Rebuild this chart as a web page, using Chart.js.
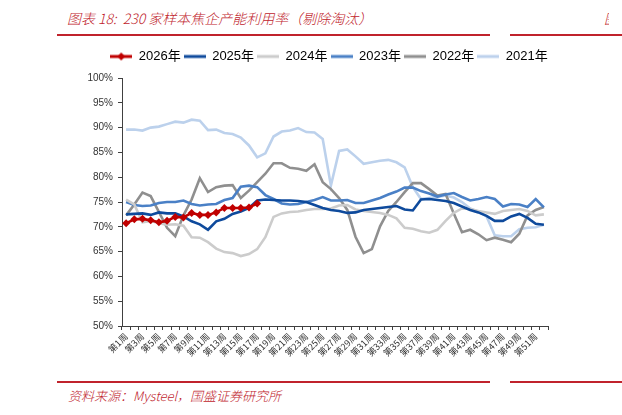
<!DOCTYPE html>
<html>
<head>
<meta charset="utf-8">
<script src="https://cdn.jsdelivr.net/npm/chart.js@4.4.1/dist/chart.umd.min.js"></script>
<style>
  body { margin: 0; width: 622px; height: 415px; background: #fff; position: relative; overflow: hidden; }
  .red { color: #c0232c; font-family: "Noto Sans CJK SC", sans-serif; font-style: italic; font-weight: 300; position: absolute; white-space: nowrap; }
  .bar { position: absolute; height: 2px; background: #c0232c; }
  #box { position: absolute; left: 0; top: 40px; width: 622px; height: 340px; }
</style>
</head>
<body>
<div class="red" style="left:67px;top:8px;font-size:14px;">图表 18:&nbsp; 230 家样本焦企产能利用率（剔除淘汰）</div>
<div class="red" style="left:604px;top:8px;font-size:14px;width:5px;overflow:hidden;">图</div>
<div class="bar" style="left:57px;top:34px;width:433px;"></div>
<div class="bar" style="left:510px;top:34px;width:112px;"></div>
<div id="box"><canvas id="myChart"></canvas></div>
<div class="bar" style="left:57px;top:381px;width:433px;"></div>
<div class="bar" style="left:510px;top:381px;width:112px;"></div>
<div class="red" style="left:68px;top:386px;font-size:13px;">资料来源：Mysteel，国盛证券研究所</div>

<script>
// weeks 1..52
var weeks = [];
for (var i = 1; i <= 52; i++) weeks.push("第" + i + "周");

var y2026 = [70.7, 71.5, 71.6, 71.3, 70.9, 71.2, 72.0, 71.9, 72.8, 72.4, 72.4, 72.9, 73.8, 73.8, 73.8, 73.9, 74.7];
var y2025 = [72.5, 72.6, 72.7, 72.4, 72.9, 72.7, 72.7, 72.1, 71.1, 70.5,
             69.4, 71.1, 71.6, 72.6, 73.1, 73.8, 75.3, 75.5, 75.4, 75.3,
             75.3, 75.2, 75.0, 74.4, 73.8, 73.4, 73.2, 72.8, 72.9, 73.4,
             73.6, 73.8, 74.0, 74.2, 73.5, 73.3, 75.5, 75.6, 75.4, 75.2,
             74.8, 74.1, 73.4, 72.9, 72.2, 71.2, 71.2, 72.1, 72.6, 71.8,
             70.6, 70.4];
var y2024 = [75.5, 74.5, 70.9, 71.2, 70.7, 70.4, 70.5, 70.2, 67.9, 67.8,
             66.9, 65.6, 64.9, 64.7, 64.1, 64.5, 65.5, 67.9, 72.0, 72.7,
             73.0, 73.1, 73.4, 73.6, 73.6, 73.7, 74.3, 74.4, 73.5, 73.2,
             73.0, 72.8, 72.4, 71.7, 69.8, 69.6, 69.1, 68.8, 69.4, 71.2,
             72.8, 73.7, 73.6, 73.2, 72.9, 72.6, 73.2, 73.4, 73.6, 73.2,
             72.3, 72.5];
var y2023 = [75.0, 74.4, 74.2, 74.3, 74.8, 75.0, 75.0, 75.3, 74.6, 74.3,
             74.5, 74.6, 75.4, 75.8, 78.1, 78.3, 78.0, 76.4, 75.6, 74.7,
             74.5, 74.6, 75.0, 75.4, 76.0, 75.3, 75.3, 75.4, 74.8, 74.8,
             75.3, 75.8, 76.5, 77.1, 77.9, 77.9, 77.2, 76.7, 76.1, 76.5,
             76.8, 76.0, 75.3, 75.6, 76.0, 75.6, 74.1, 74.6, 74.5, 74.0,
             75.6, 73.9];
var y2022 = [72.3, 74.5, 76.9, 76.2, 73.0, 69.8, 68.1, 72.3, 75.5, 79.8,
             77.0, 78.0, 78.3, 78.4, 75.8, 77.3, 79.0, 80.7, 82.8, 82.8,
             81.9, 81.7, 81.3, 82.6, 79.0, 77.6, 75.8, 73.4, 68.0, 64.7,
             65.5, 70.1, 73.2, 75.0, 77.0, 78.8, 78.8, 77.6, 76.3, 76.6,
             72.7, 68.9, 69.4, 68.5, 67.3, 67.8, 67.4, 66.9, 68.6, 72.3,
             73.4, 74.0];
var y2021 = [89.6, 89.6, 89.4, 90.0, 90.2, 90.7, 91.2, 91.0, 91.6, 91.4,
             89.5, 89.6, 88.9, 88.7, 88.0, 86.4, 84.0, 84.8, 88.2, 89.2,
             89.4, 89.9, 89.1, 89.0, 87.7, 78.3, 85.3, 85.6, 84.2, 82.7,
             83.0, 83.3, 83.5, 83.0, 82.0, 78.0, 75.6, 75.8, 76.0, 76.3,
             75.9, 75.0, 73.7, 73.0, 72.1, 68.3, 68.1, 68.1, 69.5, 69.8,
             69.9, 70.4];

var seriesNames = ["2026年", "2025年", "2024年", "2023年", "2022年", "2021年"];
var seriesData = [y2026, y2025, y2024, y2023, y2022, y2021];
var seriesColors = ["#c00000", "#0e4a9c", "#cccccc", "#4a80c6", "#8f8f8f", "#bcd1ec"];

var LEGEND_DX = 55, LEGEND_DY = -5;

function legendIcon(color, marker){
	var c = document.createElement("canvas");
	c.width = 22; c.height = 10;
	var g = c.getContext("2d");
	g.strokeStyle = color; g.lineWidth = 3;
	g.beginPath(); g.moveTo(0, 5); g.lineTo(22, 5); g.stroke();
	if(marker){
		g.fillStyle = color;
		g.beginPath(); g.moveTo(11, 1); g.lineTo(15, 5); g.lineTo(11, 9); g.lineTo(7, 5); g.closePath(); g.fill();
	}
	return c;
}

var shiftLegend = {
	id: "shiftLegend",
	afterLayout: function(chart){
		var lg = chart.legend;
		lg.left += LEGEND_DX; lg.right += LEGEND_DX;
		lg.top += LEGEND_DY; lg.bottom += LEGEND_DY;
	}
};

var datasets = [];
for (var k = 0; k < seriesNames.length; k++) {
	datasets.push({
		label: seriesNames[k],
		data: seriesData[k],
		borderColor: seriesColors[k],
		backgroundColor: seriesColors[k],
		borderWidth: 2.6,
		pointRadius: k === 0 ? 4 : 0,
		pointStyle: "rectRot",
		pointBorderWidth: 0,
		tension: 0,
		fill: false
	});
}

var axisColor = "#404040";
var ctx = document.getElementById("myChart").getContext("2d");
var config = {
	type: "line",
	data: { labels: weeks, datasets: datasets },
	options: {
		responsive: true,
		maintainAspectRatio: false,
		animation: false,
		layout: { padding: { left: 0, right: 74, top: 12, bottom: 4 } },
		plugins: {
			tooltip: { enabled: false },
			legend: {
				position: "top",
				labels: {
					font: { size: 13, family: '"Liberation Sans", "Noto Sans CJK SC", sans-serif' },
					color: "#000",
					usePointStyle: true,
					pointStyleWidth: 22,
					padding: 3,
					generateLabels: function(chart){
						var items = Chart.defaults.plugins.legend.labels.generateLabels(chart);
						items.forEach(function(it, i){ it.pointStyle = legendIcon(seriesColors[i], i === 0); });
						return items;
					}
				}
			}
		},
		scales: {
			x: {
				offset: true,
				afterFit: function(s){ s.height = 50; },
				border: { color: axisColor, width: 1 },
				grid: { drawOnChartArea: false, tickLength: 4, color: axisColor, offset: true },
				ticks: {
					autoSkip: false, minRotation: 45, maxRotation: 45, padding: 1,
					font: { size: 9, family: '"Noto Sans CJK SC", sans-serif' }, color: "#333",
					callback: function(v, i){ return i % 2 === 0 ? weeks[i] : ""; }
				}
			},
			y: {
				min: 50, max: 100,
				afterFit: function(s){ s.width = 122; },
				border: { color: axisColor, width: 1 },
				grid: { drawOnChartArea: false, tickLength: 4, color: axisColor },
				ticks: {
					stepSize: 5, padding: 5,
					font: { size: 10, family: '"Liberation Sans", sans-serif' }, color: "#333",
					callback: function(v){ return v + "%"; }
				}
			}
		}
	},
	plugins: [shiftLegend]
};
var chart = new Chart(ctx, config);
</script>
</body>
</html>
